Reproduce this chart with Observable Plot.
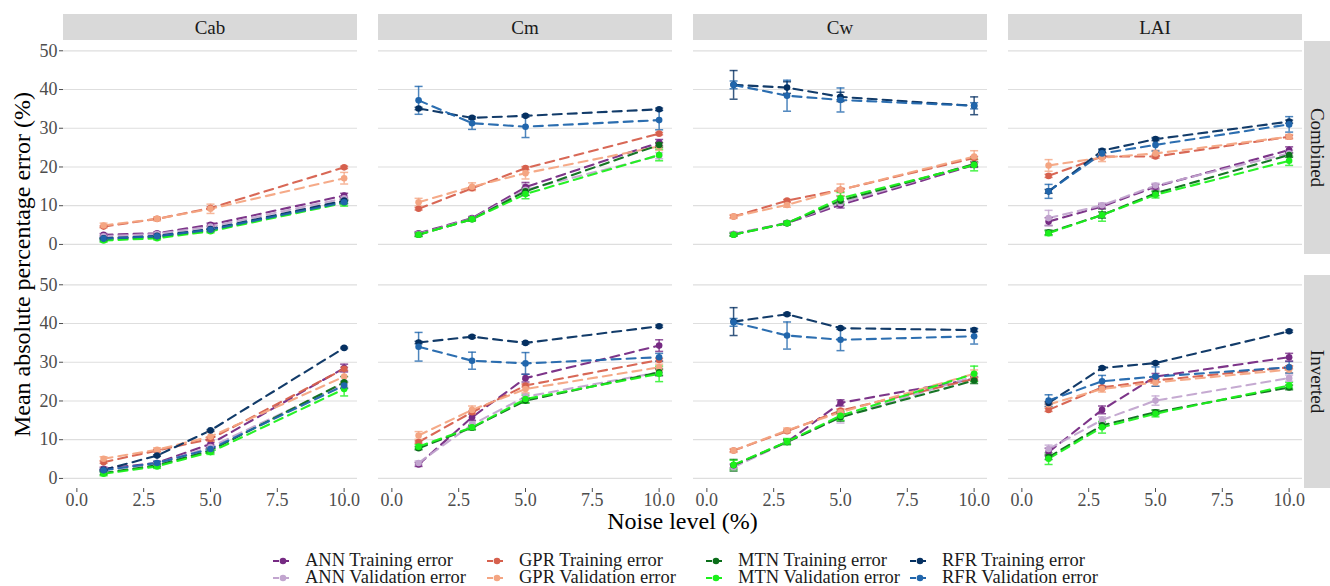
<!DOCTYPE html>
<html>
<head>
<meta charset="utf-8">
<script src="https://cdn.jsdelivr.net/npm/d3@7"></script>
<script src="https://cdn.jsdelivr.net/npm/@observablehq/plot@0.6"></script>
<style>
  body { margin: 0; background: #fff; font-family: "Liberation Serif", "Times New Roman", serif; }
  #wrap { position: relative; width: 1330px; }
  #legend {
    display: grid;
    grid-template-columns: 214px 219px 204px 220px;
    grid-auto-rows: 17px;
    margin-left: 272px;
    padding-top: 12px;
    font-size: 18.5px;
    line-height: 17px;
    color: #1a1a1a;
  }
  #legend .item { display: flex; align-items: center; white-space: nowrap; height: 17px; overflow: visible; }
  #legend svg { flex: none; margin-right: 11px; }
</style>
</head>
<body>
<div id="wrap"></div>
<script>
// ---------- data ----------
const noise = [1, 3, 5, 10];
const variables = ["Cab", "Cm", "Cw", "LAI"];
const schemes = ["Combined", "Inverted"];
const seriesNames = [
  "ANN Training error", "ANN Validation error",
  "GPR Training error", "GPR Validation error",
  "MTN Training error", "MTN Validation error",
  "RFR Training error", "RFR Validation error"
];
const seriesColors = ["#762a83", "#c2a5cf", "#d6604d", "#f4a582", "#0b6e1a", "#1bf01b", "#053061", "#2166ac"];
const xTicks = [0, 2.5, 5, 7.5, 10];
const yTicks = [0, 10, 20, 30, 40, 50];

// mean values, rows in seriesNames order, columns in noise order
const cabCombined = [
  [2.5, 2.9, 5.1, 12.6], [2.1, 2.7, 4.6, 11.9],
  [4.6, 6.6, 9.4, 19.9], [4.9, 6.6, 9.2, 17.1],
  [1.2, 1.9, 3.6, 11.1], [1.0, 1.6, 3.4, 10.7],
  [1.6, 2.2, 4.0, 11.3], [1.5, 2.1, 3.8, 10.9]
];
const cabCombinedErr = [
  [0.3, 0.3, 0.4, 0.6], [0.6, 0.4, 0.4, 0.5],
  [0.2, 0.2, 0.3, 0.3], [0.6, 0.5, 1.2, 1.5],
  [0.3, 0.3, 0.3, 0.5], [0.4, 0.4, 0.4, 0.8],
  [0.1, 0.1, 0.1, 0.1], [0.3, 0.3, 0.3, 0.4]
];
const cmCombined = [
  [2.9, 6.8, 14.8, 26.3], [2.7, 6.6, 14.1, 22.9],
  [9.2, 14.5, 19.7, 28.6], [10.9, 14.9, 18.4, 25.3],
  [2.5, 6.5, 13.7, 25.7], [2.5, 6.5, 13.0, 23.1],
  [35.1, 32.7, 33.2, 34.9], [37.2, 31.3, 30.4, 32.1]
];
const cmCombinedErr = [
  [0.4, 0.4, 1.2, 0.8], [0.5, 0.4, 1.5, 0.8],
  [0.3, 0.3, 0.4, 0.3], [1.0, 1.0, 1.5, 1.0],
  [0.4, 0.4, 1.0, 0.6], [0.5, 0.4, 1.2, 1.5],
  [0.3, 0.3, 0.3, 0.3], [3.6, 1.6, 2.8, 2.5]
];
const cwCombined = [
  [2.7, 5.5, 10.2, 20.5], [2.7, 5.6, 10.7, 20.8],
  [7.2, 11.3, 14.1, 22.3], [7.2, 10.2, 14.1, 22.7],
  [2.5, 5.5, 11.3, 20.7], [2.5, 5.5, 11.9, 20.5],
  [41.2, 40.5, 38.1, 35.8], [41.2, 38.4, 37.3, 35.8]
];
const cwCombinedErr = [
  [0.4, 0.4, 0.8, 0.6], [0.4, 0.4, 1.2, 0.6],
  [0.3, 0.3, 0.4, 0.4], [0.5, 0.6, 1.5, 1.5],
  [0.3, 0.4, 1.2, 0.6], [0.4, 0.4, 1.5, 1.5],
  [3.7, 1.5, 1.2, 2.3], [1.0, 4.0, 3.1, 0.8]
];
const laiCombined = [
  [5.9, 9.8, 14.9, 24.4], [6.8, 10.1, 15.2, 23.5],
  [17.7, 22.7, 22.7, 27.8], [20.4, 22.4, 23.5, 27.8],
  [3.1, 7.6, 13.2, 23.1], [2.9, 7.6, 12.8, 21.6],
  [13.7, 24.2, 27.2, 31.7], [13.7, 23.5, 25.7, 31.0]
];
const laiCombinedErr = [
  [1.0, 0.6, 0.6, 0.8], [2.0, 0.6, 0.6, 0.8],
  [0.4, 0.4, 0.4, 0.4], [1.5, 1.0, 0.8, 0.6],
  [0.6, 0.8, 0.6, 0.6], [0.6, 1.6, 0.8, 1.2],
  [0.5, 0.4, 0.4, 0.4], [1.8, 0.6, 1.6, 2.0]
];
const cabInverted = [
  [2.5, 4.0, 8.9, 28.5], [2.2, 3.8, 8.1, 24.4],
  [4.2, 7.2, 10.2, 28.3], [5.1, 7.4, 10.8, 26.3],
  [1.4, 3.4, 7.2, 24.8], [1.2, 3.1, 6.8, 23.1],
  [2.2, 5.9, 12.4, 33.7], [2.1, 4.0, 7.6, 24.0]
];
const cabInvertedErr = [
  [0.4, 0.4, 1.0, 1.0], [0.5, 0.4, 0.8, 0.8],
  [0.3, 0.3, 0.5, 0.4], [0.5, 0.5, 1.2, 1.5],
  [0.4, 0.4, 0.6, 1.5], [0.5, 0.5, 0.6, 1.8],
  [0.1, 0.2, 0.2, 0.2], [0.3, 0.4, 0.5, 0.8]
];
const cmInverted = [
  [3.6, 15.8, 25.9, 34.3], [4.0, 13.9, 21.1, 27.4],
  [9.4, 17.1, 24.0, 30.6], [11.1, 17.7, 23.1, 28.7],
  [7.8, 13.1, 20.1, 27.4], [8.2, 13.2, 20.5, 27.0],
  [35.1, 36.6, 35.0, 39.3], [34.0, 30.4, 29.7, 31.3]
];
const cmInvertedErr = [
  [0.5, 0.8, 1.0, 1.5], [0.5, 0.8, 0.8, 1.0],
  [0.3, 0.3, 0.4, 0.4], [1.0, 1.0, 1.0, 0.8],
  [0.4, 0.5, 0.6, 0.8], [0.5, 0.6, 1.0, 2.0],
  [0.3, 0.3, 0.3, 0.3], [3.7, 2.2, 2.8, 1.0]
];
const cwInverted = [
  [3.2, 9.4, 19.5, 25.7], [2.9, 9.4, 15.8, 26.3],
  [7.2, 12.2, 17.5, 25.7], [7.2, 12.4, 17.1, 27.0],
  [3.4, 9.4, 15.8, 25.3], [3.5, 9.5, 16.2, 27.0],
  [40.5, 42.4, 38.8, 38.3], [40.3, 36.9, 35.8, 36.7]
];
const cwInvertedErr = [
  [0.5, 0.5, 0.8, 0.6], [0.6, 0.5, 1.5, 0.8],
  [0.3, 0.3, 0.4, 0.4], [0.5, 0.6, 0.8, 1.0],
  [1.5, 0.6, 1.0, 0.8], [1.2, 0.8, 1.2, 2.0],
  [3.6, 0.3, 0.3, 0.4], [1.0, 3.5, 2.8, 2.0]
];
const laiInverted = [
  [6.8, 17.7, 26.3, 31.3], [7.6, 15.1, 20.1, 25.9],
  [17.7, 23.5, 25.3, 28.7], [19.1, 23.1, 24.8, 28.1],
  [5.5, 13.7, 17.1, 23.5], [5.1, 13.2, 16.7, 24.0],
  [19.5, 28.5, 29.8, 38.0], [20.1, 25.1, 26.3, 28.7]
];
const laiInvertedErr = [
  [1.0, 1.0, 0.8, 1.0], [1.0, 0.8, 1.2, 0.8],
  [0.4, 0.4, 0.4, 0.4], [0.6, 0.8, 1.0, 0.8],
  [0.6, 0.6, 0.6, 0.6], [1.5, 1.5, 0.8, 0.8],
  [0.3, 0.3, 0.3, 0.3], [1.5, 1.5, 2.5, 1.5]
];

const facetTables = [
  ["Cab", "Combined", cabCombined, cabCombinedErr],
  ["Cm", "Combined", cmCombined, cmCombinedErr],
  ["Cw", "Combined", cwCombined, cwCombinedErr],
  ["LAI", "Combined", laiCombined, laiCombinedErr],
  ["Cab", "Inverted", cabInverted, cabInvertedErr],
  ["Cm", "Inverted", cmInverted, cmInvertedErr],
  ["Cw", "Inverted", cwInverted, cwInvertedErr],
  ["LAI", "Inverted", laiInverted, laiInvertedErr]
];

const rows = [];
facetTables.forEach(([variable, scheme, means, errs]) => {
  seriesNames.forEach((series, i) => {
    noise.forEach((n, j) => {
      rows.push({variable, scheme, series, noise: n, mae: means[i][j],
                 lo: means[i][j] - errs[i][j], hi: means[i][j] + errs[i][j]});
    });
  });
});

// ---------- chart ----------
const capHalf = 0.15;
const common = {fx: "variable", fy: "scheme"};
const chart = Plot.plot({
  width: 1330,
  height: 540,
  marginLeft: 62,
  marginRight: 28,
  marginTop: 40,
  marginBottom: 52,
  style: {fontFamily: '"Liberation Serif", "Times New Roman", serif', background: "#fff", overflow: "visible"},
  x: {domain: [-0.5, 10.5]},
  y: {domain: [-2.6, 52.4]},
  fx: {domain: variables, paddingInner: 0.0677, paddingOuter: 0, axis: null},
  fy: {domain: schemes, paddingInner: 0.091, paddingOuter: 0, axis: null},
  color: {domain: seriesNames, range: seriesColors},
  marks: [
    Plot.gridY({ticks: yTicks, stroke: "#dedede", strokeOpacity: 1, strokeWidth: 1.2}),
    Plot.axisY({ticks: yTicks, tickSize: 4, tickPadding: 2, fontSize: 18, color: "#4d4d4d", label: null}),
    Plot.axisX({ticks: xTicks, tickFormat: d3.format(".1f"), tickSize: 4, tickPadding: 1, fontSize: 18, color: "#4d4d4d", label: null}),
    Plot.line(rows, {...common, x: "noise", y: "mae", z: "series", stroke: "series",
      strokeWidth: 2.1, strokeDasharray: "9,6", strokeOpacity: 0.95}),
    Plot.ruleX(rows, {...common, x: "noise", y1: "lo", y2: "hi", stroke: "series", strokeWidth: 1.5, strokeOpacity: 0.8}),
    Plot.link(rows, {...common, x1: d => d.noise - capHalf, x2: d => d.noise + capHalf, y1: "hi", y2: "hi",
      stroke: "series", strokeWidth: 1.5, strokeOpacity: 0.8}),
    Plot.link(rows, {...common, x1: d => d.noise - capHalf, x2: d => d.noise + capHalf, y1: "lo", y2: "lo",
      stroke: "series", strokeWidth: 1.5, strokeOpacity: 0.8}),
    Plot.dot(rows, {...common, x: "noise", y: "mae", fill: "series", r: 3.3})
  ]
});

// ---------- strips & axis titles ----------
const svg = d3.select(chart);
const fxS = chart.scale("fx");
const fyS = chart.scale("fy");
const bw = fxS.bandwidth;
const bh = fyS.bandwidth;

variables.forEach(v => {
  const x0 = fxS.apply(v);
  svg.append("rect").attr("x", x0).attr("y", 14).attr("width", bw).attr("height", 26).attr("fill", "#d9d9d9");
  svg.append("text").attr("x", x0 + bw / 2).attr("y", 27).attr("text-anchor", "middle")
    .attr("dominant-baseline", "central").attr("font-size", 19).attr("fill", "#1a1a1a").text(v);
});
schemes.forEach(s => {
  const y0 = fyS.apply(s);
  svg.append("rect").attr("x", 1304).attr("y", y0).attr("width", 26).attr("height", bh).attr("fill", "#d9d9d9");
  svg.append("text").attr("transform", `translate(1317,${y0 + bh / 2}) rotate(90)`)
    .attr("text-anchor", "middle").attr("dominant-baseline", "central")
    .attr("font-size", 19).attr("fill", "#1a1a1a").text(s);
});
const yMid = fyS.apply(schemes[0]) + (fyS.apply(schemes[1]) + bh - fyS.apply(schemes[0])) / 2;
const xMid = fxS.apply(variables[0]) + (fxS.apply(variables[3]) + bw - fxS.apply(variables[0])) / 2;
svg.append("text").attr("transform", `translate(22,${yMid}) rotate(-90)`)
  .attr("text-anchor", "middle").attr("dominant-baseline", "central")
  .attr("font-size", 24).attr("fill", "#000").text("Mean absolute percentage error (%)");
svg.append("text").attr("x", xMid).attr("y", 521)
  .attr("text-anchor", "middle").attr("dominant-baseline", "central")
  .attr("font-size", 24).attr("fill", "#000").text("Noise level (%)");

const wrap = document.getElementById("wrap");
wrap.appendChild(chart);

// ---------- legend ----------
const legend = document.createElement("div");
legend.id = "legend";
const legendOrder = [0, 2, 4, 6, 1, 3, 5, 7];
legendOrder.forEach(i => {
  const item = document.createElement("div");
  item.className = "item";
  item.innerHTML =
    `<svg width="22" height="12"><line x1="1" x2="21" y1="6" y2="6" stroke="${seriesColors[i]}" stroke-width="2" stroke-dasharray="6,4"/>` +
    `<circle cx="11" cy="6" r="3.3" fill="${seriesColors[i]}"/></svg><span>${seriesNames[i]}</span>`;
  legend.appendChild(item);
});
wrap.appendChild(legend);
</script>
</body>
</html>
